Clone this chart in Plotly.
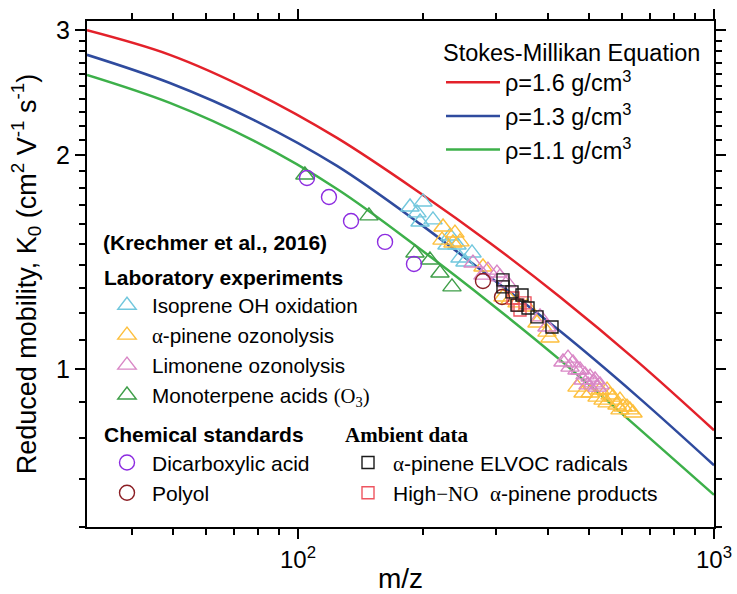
import plotly.graph_objects as go

# ---- Stokes-Millikan curves ----
sm_mz = [31.1, 49.2, 78.4, 124.1, 196.5, 289.4, 426.4, 653.0, 1000]
sm16_k = [3.00, 2.77, 2.455, 2.116, 1.770, 1.505, 1.263, 1.026, 0.820]
sm13_k = [2.77, 2.528, 2.242, 1.932, 1.601, 1.348, 1.131, 0.916, 0.732]
sm11_k = [2.595, 2.370, 2.095, 1.793, 1.476, 1.239, 1.030, 0.829, 0.665]

# ---- Laboratory experiments ----
isoprene_mz = [185.9, 199.7, 193.2, 196.5, 211.1, 232.0, 241.1, 245.1, 262.0, 252.0, 228.1]
isoprene_k = [1.691, 1.719, 1.659, 1.611, 1.622, 1.539, 1.495, 1.433, 1.457, 1.415, 1.495]

apinene_mz = [223.2, 238.4, 221.9, 245.1, 235.8, 278.4, 311.0, 336.1, 355.2, 396.8, 403.4, 375.4, 323.3,
              468.5, 484.4, 503.6, 523.5, 532.1, 541.1, 553.2, 553.2, 562.3, 571.8, 584.6, 594.3, 594.3,
              604.3, 617.8, 628.1, 638.7]
apinene_k = [1.585, 1.554, 1.519, 1.510, 1.505, 1.392, 1.263, 1.239, 1.223, 1.127, 1.106, 1.161, 1.251,
             0.943, 0.925, 0.925, 0.913, 0.934, 0.904, 0.934, 0.896, 0.919, 0.913, 0.890, 0.904, 0.876,
             0.884, 0.884, 0.876, 0.867]

limonene_mz = [263.4, 286.2, 300.8, 305.9, 318.0, 381.7, 396.8, 278.4,
               433.5, 445.7, 450.7, 458.2, 468.5, 476.4, 484.4, 489.8, 503.6, 512.0, 517.7, 498.0, 523.5, 532.1]
limonene_k = [1.410, 1.378, 1.365, 1.348, 1.322, 1.184, 1.146, 1.356,
              1.023, 1.036, 1.006, 1.020, 0.997, 0.997, 0.965, 0.981, 0.974, 0.956, 0.965, 0.950, 0.943, 0.950]

monoterp_mz = [103.9, 148.1, 191.1, 207.6, 219.4, 234.5]
monoterp_k = [1.876, 1.643, 1.457, 1.424, 1.365, 1.305]

# ---- Chemical standards ----
dicarb_mz = [105.1, 118.7, 134.1, 161.9, 190.0]
dicarb_k = [1.858, 1.747, 1.616, 1.510, 1.406]
polyol_mz = [278.4, 309.3]
polyol_k = [1.330, 1.263]

# ---- Ambient data ----
elvoc_mz = [311.0, 311.0, 326.9, 345.5, 336.1, 357.2, 375.4, 407.9]
elvoc_k = [1.335, 1.305, 1.284, 1.271, 1.230, 1.219, 1.184, 1.146]
highno_mz = [328.7, 337.9, 341.7, 351.3]
highno_k = [1.259, 1.230, 1.211, 1.239]

x_ticks = [100, 1000]
x_ticktext = ["10<sup>2</sup>", "10<sup>3</sup>"]
x_minor = [40, 50, 60, 70, 80, 90, 200, 300, 400, 500, 600, 700, 800, 900]
y_ticks = [1, 2, 3]
y_minor = [0.6, 0.7, 0.8, 0.9, 1.1, 1.2, 1.3, 1.4, 1.5, 1.6, 1.7, 1.8, 1.9,
           2.1, 2.2, 2.3, 2.4, 2.5, 2.6, 2.7, 2.8, 2.9]

SANS = "Liberation Sans, Arial, sans-serif"
SERIF = "Liberation Serif,Times New Roman,serif"


def serif(t):
    return '<span style="font-family:%s">%s</span>' % (SERIF, t)


fig = go.Figure()

for k, col, name in [
    (sm16_k, "#E3212A", "\u03c1=1.6 g/cm<sup>3</sup>"),
    (sm13_k, "#2F4B9E", "\u03c1=1.3 g/cm<sup>3</sup>"),
    (sm11_k, "#3DB04A", "\u03c1=1.1 g/cm<sup>3</sup>"),
]:
    fig.add_trace(go.Scatter(x=sm_mz, y=k, mode="lines", name=name,
                             line=dict(color=col, width=2.5, shape="spline", smoothing=1.0),
                             legend="legend"))

lab = [
    (isoprene_mz, isoprene_k, "#72C7DD", "Isoprene OH oxidation"),
    (apinene_mz, apinene_k, "#FDBF3C", serif("\u03b1") + "-pinene ozonolysis"),
    (limonene_mz, limonene_k, "#D987C6", "Limonene ozonolysis"),
    (monoterp_mz, monoterp_k, "#3E9E48", "Monoterpene acids " + serif("(O<sub>3</sub>)")),
]
for mz, k, col, name in lab:
    fig.add_trace(go.Scatter(x=mz, y=k, mode="markers", name=name, legend="legend2",
                             marker=dict(symbol="triangle-up-open", size=16, color=col,
                                         line=dict(width=1.4, color=col))))

chem = [
    (dicarb_mz, dicarb_k, "#8C2BE0", "Dicarboxylic acid"),
    (polyol_mz, polyol_k, "#8B1E24", "Polyol"),
]
for mz, k, col, name in chem:
    fig.add_trace(go.Scatter(x=mz, y=k, mode="markers", name=name, legend="legend3",
                             marker=dict(symbol="circle-open", size=15, color=col,
                                         line=dict(width=1.4, color=col))))

elvoc_name = serif("\u03b1") + "-pinene ELVOC radicals"
highno_name = "High" + serif("\u2212NO") + "  " + serif("\u03b1") + "-pinene products"
fig.add_trace(go.Scatter(x=highno_mz, y=highno_k, mode="markers", name=highno_name, legend="legend4",
                         legendrank=2,
                         marker=dict(symbol="square-open", size=12, color="#EE5560",
                                     line=dict(width=1.4, color="#EE5560"))))
fig.add_trace(go.Scatter(x=elvoc_mz, y=elvoc_k, mode="markers", name=elvoc_name, legend="legend4",
                         legendrank=1,
                         marker=dict(symbol="square-open", size=12, color="#1A1A1A",
                                     line=dict(width=1.4, color="#1A1A1A"))))

L, R, T, B = 87, 23, 21, 67
W, H = 737, 594


def px_x(p):
    return (p - L) / (W - L - R)


def px_y(p):
    return (H - B - p) / (H - T - B)


common_leg = dict(bgcolor="rgba(0,0,0,0)", borderwidth=0, xanchor="left", yanchor="top",
                  traceorder="normal")

fig.update_layout(
    width=W, height=H,
    margin=dict(l=L, r=R, t=T, b=B, autoexpand=False),
    paper_bgcolor="white", plot_bgcolor="white",
    font=dict(family=SANS, color="black", size=21),
    showlegend=True,
    legend=dict(x=px_x(441), y=px_y(30), font=dict(size=23.5), itemwidth=54,
                title=dict(text="Stokes-Millikan Equation", font=dict(size=23.5)), **common_leg),
    legend2=dict(x=px_x(102), y=px_y(258), font=dict(size=20.7), itemwidth=40,
                 title=dict(text="<b>Laboratory experiments</b>", font=dict(size=21)), **common_leg),
    legend3=dict(x=px_x(102), y=px_y(415), font=dict(size=21), itemwidth=40,
                 title=dict(text="<b>Chemical standards</b>", font=dict(size=21)), **common_leg),
    legend4=dict(x=px_x(343), y=px_y(415), font=dict(size=21), itemwidth=40,
                 title=dict(text="<b>Ambient data</b>", font=dict(size=21, family=SERIF)), **common_leg),
    annotations=[dict(text="<b>(Krechmer et al., 2016)</b>", xref="paper", yref="paper",
                      x=px_x(101), y=px_y(242), xanchor="left", yanchor="middle",
                      showarrow=False, font=dict(size=21))],
    xaxis=dict(type="log", range=[1.4928, 3.0], tickvals=x_ticks, ticktext=x_ticktext,
               automargin=False,
               ticks="outside", ticklen=10, tickwidth=1.8, tickcolor="black",
               showline=True, linewidth=2, linecolor="black", mirror="ticks",
               showgrid=False, zeroline=False, tickfont=dict(size=24),
               minor=dict(tickvals=x_minor, ticks="outside", ticklen=6, tickwidth=1.5,
                          tickcolor="black", showgrid=False),
               title=dict(text="m/z", font=dict(size=28), standoff=2)),
    yaxis=dict(type="log", range=[-0.2225, 0.4901], tickvals=y_ticks,
               automargin=False,
               ticks="outside", ticklen=10, tickwidth=1.8, tickcolor="black",
               showline=True, linewidth=2, linecolor="black", mirror="ticks",
               showgrid=False, zeroline=False, tickfont=dict(size=25),
               minor=dict(tickvals=y_minor, ticks="outside", ticklen=6, tickwidth=1.5,
                          tickcolor="black", showgrid=False),
               title=dict(text="Reduced mobility, K<sub>0</sub> (cm<sup>2</sup> V<sup>-1</sup> s<sup>-1</sup>)",
                          font=dict(size=27), standoff=12)),
)

fig.write_html("out.html")
